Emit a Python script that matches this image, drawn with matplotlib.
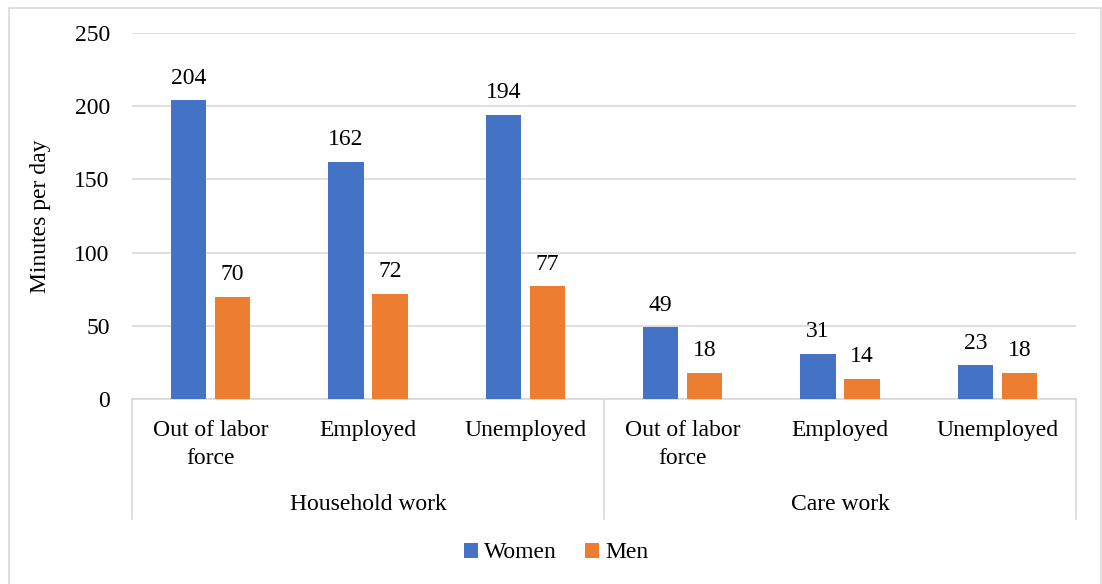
import matplotlib.pyplot as plt
from matplotlib.patches import Rectangle
from matplotlib.lines import Line2D

groups = ["Household work", "Care work"]
statuses = ["Out of labor\nforce", "Employed", "Unemployed"]
women = [204, 162, 194, 49, 31, 23]
men = [70, 72, 77, 18, 14, 18]

blue = "#4472C4"
orange = "#ED7D31"
grid_c = "#D9D9D9"
fs = 17

plt.rcParams["font.family"] = ["Liberation Serif", "DejaVu Serif"]

fig = plt.figure(figsize=(11.02, 5.84), dpi=100)
ax = fig.add_axes([132 / 1102, 1 - 399 / 584, (1076 - 132) / 1102, (399 - 33) / 584])

# outer chart border
fig.patches.append(Rectangle((8.5 / 1102, -0.01), (1101 - 8.5) / 1102, 1.01 - 7.5 / 584,
                             transform=fig.transFigure, fill=False,
                             edgecolor=grid_c, linewidth=1.2))

n = len(women)
x = list(range(n))
w = 0.225
off = 0.14
ax.bar([i - off for i in x], women, width=w, color=blue, label="Women", zorder=3)
ax.bar([i + off for i in x], men, width=w, color=orange, label="Men", zorder=3)

for i in x:
    ax.text(i - off, women[i] + 8, str(women[i]), ha="center", va="bottom", fontsize=fs)
    ax.text(i + off, men[i] + 8, str(men[i]), ha="center", va="bottom", fontsize=fs)

ax.set_xlim(-0.5, n - 0.5)
ax.set_ylim(0, 250)
ax.set_yticks(range(0, 251, 50))
ax.yaxis.grid(True, color=grid_c, linewidth=1.2)
ax.set_axisbelow(True)
for s in ax.spines.values():
    s.set_visible(False)
ax.tick_params(axis="y", length=0, labelsize=fs, pad=16)
ax.tick_params(axis="x", length=0)
ax.set_xticks([])
ax.set_ylabel("Minutes per day", fontsize=fs, labelpad=17)

# category axis with group boxes
tr = ax.get_xaxis_transform()
depth = -(519 - 399) / 366
ax.add_line(Line2D([-0.5, n - 0.5], [0, 0], transform=tr, color=grid_c, lw=1.2, clip_on=False))
for xv in [-0.5, 2.5, n - 0.5]:
    ax.add_line(Line2D([xv, xv], [0, depth], transform=tr, color=grid_c, lw=1.2, clip_on=False))

for i in x:
    ax.text(i, -(420 - 399) / 366, statuses[i % 3], transform=tr, ha="center", va="top",
            fontsize=fs, linespacing=1.45)
for g, name in enumerate(groups):
    ax.text(g * 3 + 1, -(504 - 399) / 366, name, transform=tr, ha="center", va="center",
            fontsize=fs)

fig.legend(loc="center", bbox_to_anchor=(556 / 1102, 1 - 553 / 584), ncol=2, frameon=False,
           fontsize=fs, handlelength=0.6, handleheight=0.6, handletextpad=0.25,
           columnspacing=1.2)

fig.savefig("out.png", dpi=100)
